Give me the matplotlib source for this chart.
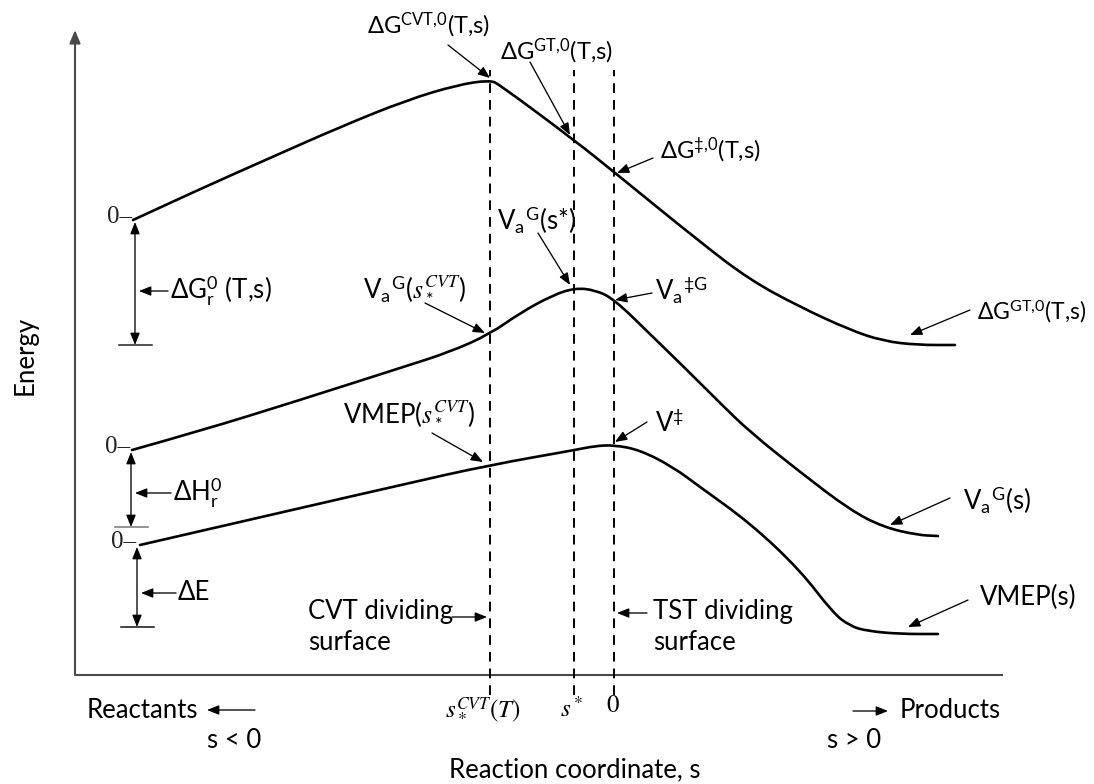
import numpy as np
import matplotlib
matplotlib.use("Agg")
import matplotlib.pyplot as plt
from matplotlib.path import Path
from matplotlib.patches import PathPatch

# ---- profiles along the reaction coordinate s (arbitrary energy units) ----
s_dG = [-4.81, -4.14, -3.44, -2.74, -2.07, -1.57, -1.24, -1.14, -0.40,
        0.00, 0.86, 1.36, 1.86, 2.36, 2.69, 3.03, 3.41]
E_dG = [4.55, 4.86, 5.17, 5.48, 5.75, 5.90, 5.95, 5.90, 5.35,
        5.03, 4.33, 3.95, 3.68, 3.45, 3.34, 3.30, 3.30]

s_VaG = [-4.82, -4.14, -3.14, -2.14, -1.64, -1.24, -0.94, -0.61, -0.39, -0.19,
         0.00, 0.39, 0.73, 1.06, 1.36, 1.86, 2.36, 2.69, 3.03, 3.24]
E_VaG = [2.25, 2.44, 2.75, 3.07, 3.23, 3.41, 3.62, 3.80, 3.87, 3.85,
         3.76, 3.38, 3.05, 2.72, 2.43, 2.03, 1.65, 1.48, 1.40, 1.39]

s_VMEP = [-4.74, -2.14, -1.24, -0.39, -0.19, 0.00, 0.26, 0.59, 0.86, 1.36,
          1.86, 2.19, 2.36, 2.53, 2.86, 3.24]
E_VMEP = [1.30, 1.90, 2.10, 2.25, 2.29, 2.30, 2.25, 2.08, 1.88, 1.52,
          1.05, 0.62, 0.49, 0.44, 0.41, 0.41]

# dividing-surface locations
s_cvt = -1.24
s_star = -0.40
s_ts = 0.0
surface_s = [s_cvt, s_star, s_ts]
surface_ticks = [r"$s_*^{CVT}(T)$", r"$s^*$", r"$0$"]

# reactant zero levels and the reaction-energy bars below them
zero_levels = [E_dG[0], E_VaG[0], E_VMEP[0]]
bar_levels = [3.30, 1.48, 0.48]
bar_labels = ["ΔG$_{\\mathrm{r}}^{\\mathrm{0}}$ (T,s)", "ΔH$_{\\mathrm{r}}^{\\mathrm{0}}$", "ΔE"]

# frame of the diagram
s_min, s_max = -5.39, 3.89
E_top = 6.45

plt.rcParams["font.family"] = ["Lato", "Noto Sans", "DejaVu Sans"]
plt.rcParams["mathtext.fontset"] = "custom"
plt.rcParams["mathtext.rm"] = "Lato"
plt.rcParams["mathtext.it"] = "STIXGeneral:italic"
plt.rcParams["mathtext.bf"] = "Lato:bold"
plt.rcParams["mathtext.fallback"] = "stix"

fig = plt.figure(figsize=(10.94, 7.84), dpi=100)
ax = fig.add_axes([0, 0, 1, 1])
ax.set_xlim(-6.14, 4.80)
ax.set_ylim(-1.09, 6.75)
ax.axis("off")

FS = 18.5
FS_G = 17
CURVE_LW = 1.9
ARROW = dict(arrowstyle="-|>,head_length=0.55,head_width=0.22", lw=0.95,
             color="black", shrinkA=0, shrinkB=0, mutation_scale=13)


def smooth_path(xs, ys):
    pts = np.column_stack([xs, ys])
    verts = [pts[0]]
    codes = [Path.MOVETO]
    for i in range(1, len(pts) - 1):
        verts += [pts[i], (pts[i] + pts[i + 1]) / 2]
        codes += [Path.CURVE3, Path.CURVE3]
    verts.append(pts[-1])
    codes.append(Path.LINETO)
    return Path(verts, codes)


for xs, ys in [(s_dG, E_dG), (s_VaG, E_VaG), (s_VMEP, E_VMEP)]:
    ax.add_patch(PathPatch(smooth_path(xs, ys), fill=False, lw=CURVE_LW,
                           edgecolor="black", capstyle="round", joinstyle="round"))

# axes of the diagram
ax.plot([s_min, s_max], [0, 0], color="#4a4a4a", lw=1.5, solid_capstyle="butt")
ax.annotate("", xy=(s_min, E_top), xytext=(s_min, 0),
            arrowprops=dict(arrowstyle="-|>,head_length=0.6,head_width=0.25",
                            lw=1.5, color="#4a4a4a", shrinkA=0, shrinkB=0,
                            mutation_scale=13))

# dividing surfaces
for s in surface_s:
    ax.plot([s, s], [-0.20, 6.05], color="black", lw=1.4,
            linestyle=(0, (5.0, 3.6)))
tick_x = [-1.31, -0.42, -0.01]
tick_y = [-0.35, -0.33, -0.30]
for x, y, t in zip(tick_x, tick_y, surface_ticks):
    ax.text(x, y, t, ha="center", va="center", fontsize=18,
            math_fontfamily="stix")

# zero marks and reaction-energy arrows on the reactant side
zero_x = [-4.81, -4.83, -4.77]
for z, x0 in zip(zero_levels, zero_x):
    ax.text(x0 - 0.01, z + 0.03, "0–", ha="right", va="center", fontsize=18,
            family="Liberation Serif", color="#222222")
arrow_x = [-4.79, -4.83, -4.77]
bar_colors = ["#222222", "#777777", "#111111"]
label_y = [3.84, 1.82, 0.82]
label_x = [-4.44, -4.41, -4.36]
for z, b, x0, c, ly, lx, lab in zip(zero_levels, bar_levels, arrow_x, bar_colors,
                                    label_y, label_x, bar_labels):
    ax.annotate("", xy=(x0, z - 0.02), xytext=(x0, b),
                arrowprops=dict(arrowstyle="<|-|>,head_length=0.55,head_width=0.22",
                                lw=0.95, color="black", shrinkA=0, shrinkB=0,
                                mutation_scale=13))
    ax.plot([x0 - 0.16, x0 + 0.17], [b, b], color=c, lw=1.1)
    ax.annotate("", xy=(x0 + 0.04, ly), xytext=(lx - 0.02, ly), arrowprops=ARROW)
    ax.text(lx, ly, lab, ha="left", va="center", fontsize=FS)


def callout(text, tail, head, pos, size=FS):
    ax.annotate("", xy=head, xytext=tail, arrowprops=ARROW)
    ax.text(pos[0], pos[1], text, ha="left", va="center", fontsize=size)


# free-energy curve labels
callout("ΔG$^{\\mathrm{CVT{,}0}}$(T,s)", (-1.66, 6.30), (-1.24, 5.97), (-2.47, 6.50), FS_G)
callout("ΔG$^{\\mathrm{GT{,}0}}$(T,s)", (-0.84, 6.13), (-0.44, 5.40), (-1.14, 6.24), FS_G)
callout("ΔG$^{\\mathrm{‡{,}0}}$(T,s)", (0.39, 5.17), (0.03, 5.02), (0.46, 5.25), FS_G)

# vibrationally adiabatic curve labels
callout("V$_{\\mathrm{a}}{}^{\\mathrm{G}}$(s*)", (-0.76, 4.42), (-0.44, 3.90), (-1.17, 4.55))
callout("V$_{\\mathrm{a}}{}^{\\mathrm{G}}$($s_*^{CVT}$)", (-1.89, 3.72), (-1.29, 3.42), (-2.51, 3.87))
callout("V$_{\\mathrm{a}}{}^{\\mathrm{‡G}}$", (0.38, 3.82), (0.01, 3.75), (0.41, 3.85))

# minimum energy path labels
callout("VMEP($s_*^{CVT}$)", (-1.82, 2.42), (-1.31, 2.13), (-2.71, 2.62))
callout("V$^{\\mathrm{‡}}$", (0.33, 2.53), (0.01, 2.33), (0.41, 2.52))

# right-hand curve labels
callout("ΔG$^{\\mathrm{GT{,}0}}$(T,s)", (3.56, 3.65), (2.96, 3.40), (3.63, 3.63), 16.5)
callout("V$_{\\mathrm{a}}{}^{\\mathrm{G}}$(s)", (3.36, 1.77), (2.76, 1.50), (3.49, 1.75))
callout("VMEP(s)", (3.54, 0.75), (2.94, 0.48), (3.66, 0.78))

# dividing-surface labels
ax.annotate("", xy=(s_cvt - 0.03, 0.58), xytext=(s_cvt - 0.38, 0.58), arrowprops=ARROW)
ax.text(-3.06, 0.63, "CVT dividing", ha="left", va="center", fontsize=FS)
ax.text(-3.06, 0.33, "surface", ha="left", va="center", fontsize=FS)
ax.annotate("", xy=(s_ts + 0.03, 0.62), xytext=(s_ts + 0.33, 0.62), arrowprops=ARROW)
ax.text(0.39, 0.63, "TST dividing", ha="left", va="center", fontsize=FS)
ax.text(0.39, 0.32, "surface", ha="left", va="center", fontsize=FS)

# direction of reaction
ax.annotate("", xy=(-4.07, -0.35), xytext=(-3.59, -0.35), arrowprops=ARROW)
ax.text(-4.16, -0.35, "Reactants", ha="right", va="center", fontsize=FS)
ax.text(-3.80, -0.65, "s < 0", ha="center", va="center", fontsize=FS)
ax.annotate("", xy=(2.74, -0.36), xytext=(2.39, -0.36), arrowprops=ARROW)
ax.text(2.86, -0.35, "Products", ha="left", va="center", fontsize=FS)
ax.text(2.40, -0.65, "s > 0", ha="center", va="center", fontsize=FS)

# axis titles
ax.text(-0.39, -0.95, "Reaction coordinate, s", ha="center", va="center", fontsize=FS)
ax.text(-5.89, 3.20, "Energy", ha="center", va="center", rotation=90, fontsize=FS)

fig.savefig("out.png", dpi=100)
